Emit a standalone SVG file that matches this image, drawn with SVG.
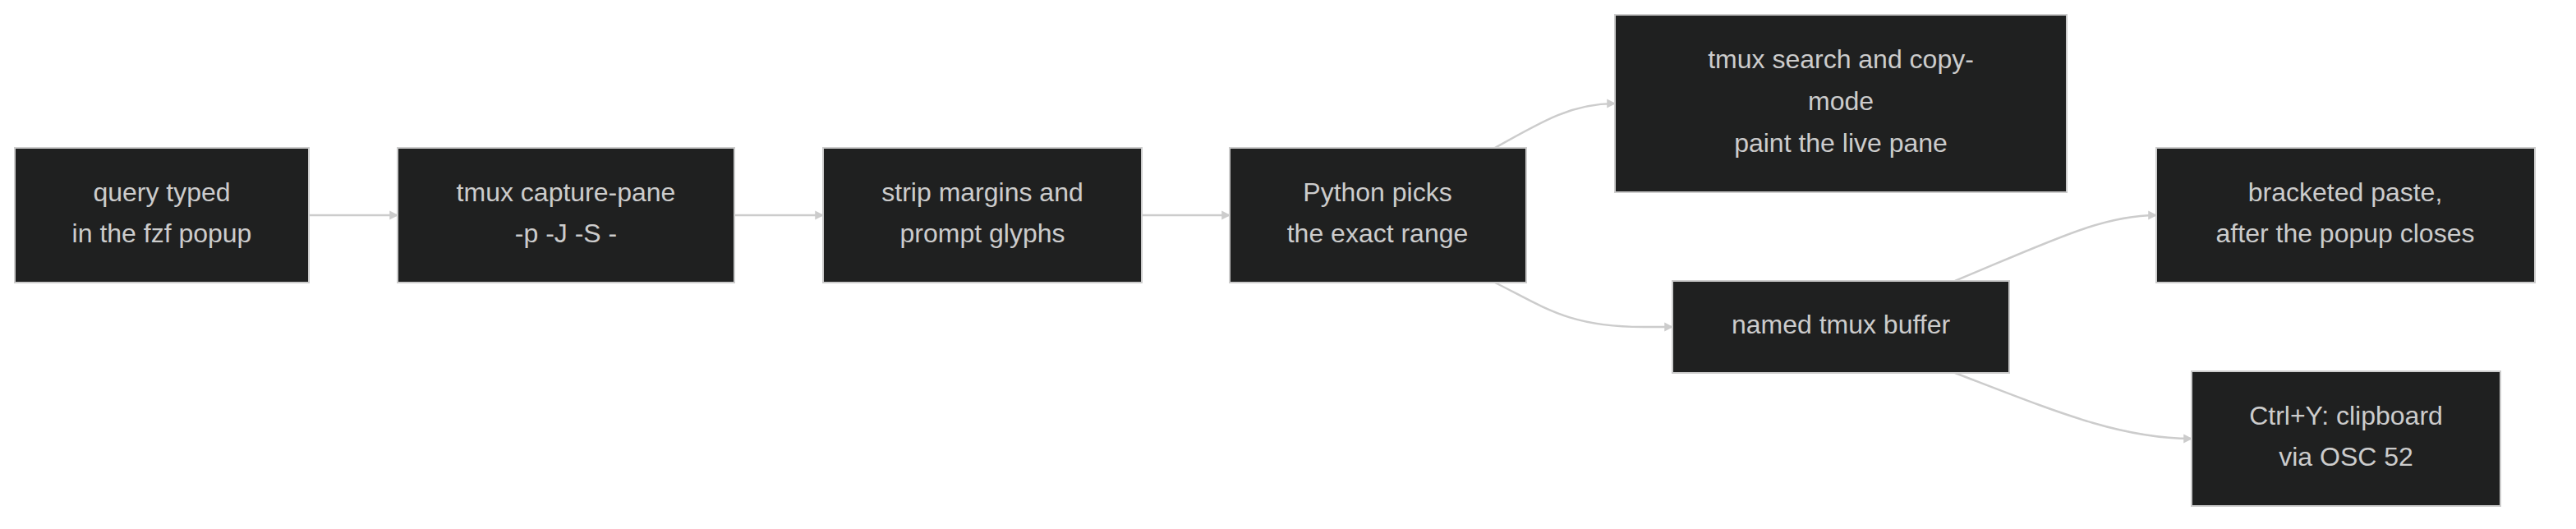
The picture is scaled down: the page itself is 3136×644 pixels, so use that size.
<svg xmlns="http://www.w3.org/2000/svg" width="3136" height="644" viewBox="0 0 3136 644">
<style>
.n rect{fill:#1f2020;stroke:#cccccc;stroke-width:2}
.n text{font-family:"Liberation Sans",Arial,sans-serif;font-size:32px;fill:#cccccc;text-anchor:middle;dominant-baseline:central}
.e path{fill:none;stroke:#cccccc;stroke-width:2.5;marker-end:url(#a)}
</style>
<defs><marker id="a" viewBox="0 0 10 10" refX="9" refY="5" markerWidth="6" markerHeight="6" markerUnits="userSpaceOnUse" orient="auto" style="overflow:visible"><path d="M0,0L10,5L0,10z" fill="#cccccc" transform="scale(1.8)" transform-origin="9 5"/></marker></defs>
<rect width="3136" height="644" fill="#ffffff"/>
<g class="e">
<path d="M376,262H484"/>
<path d="M894,262H1002"/>
<path d="M1390,262H1497"/>
<path d="M1820,180C1880,146 1915,126 1966,126"/>
<path d="M1820,344C1880,374 1910,398 2000,398H2036"/>
<path d="M2380,342C2500,292 2560,262 2625,262"/>
<path d="M2380,454C2500,500 2580,534 2668,534"/>
</g>
<g id="n1" class="n"><rect x="18" y="180" width="358" height="164"/><text x="197" y="234">query typed</text><text x="197" y="284">in the fzf popup</text></g>
<g id="n2" class="n"><rect x="484" y="180" width="410" height="164"/><text x="689" y="234">tmux capture-pane</text><text x="689" y="284">-p -J -S -</text></g>
<g id="n3" class="n"><rect x="1002" y="180" width="388" height="164"/><text x="1196" y="234">strip margins and</text><text x="1196" y="284">prompt glyphs</text></g>
<g id="n4" class="n"><rect x="1497" y="180" width="361" height="164"/><text x="1677" y="234">Python picks</text><text x="1677" y="284">the exact range</text></g>
<g id="n5" class="n"><rect x="1966" y="18" width="550" height="216"/><text x="2241" y="72">tmux search and copy-</text><text x="2241" y="123">mode</text><text x="2241" y="174">paint the live pane</text></g>
<g id="n6" class="n"><rect x="2036" y="342" width="410" height="112"/><text x="2241" y="395">named tmux buffer</text></g>
<g id="n7" class="n"><rect x="2625" y="180" width="461" height="164"/><text x="2855" y="234">bracketed paste,</text><text x="2855" y="284">after the popup closes</text></g>
<g id="n8" class="n"><rect x="2668" y="452" width="376" height="164"/><text x="2856" y="506">Ctrl+Y: clipboard</text><text x="2856" y="556">via OSC 52</text></g>
</svg>
